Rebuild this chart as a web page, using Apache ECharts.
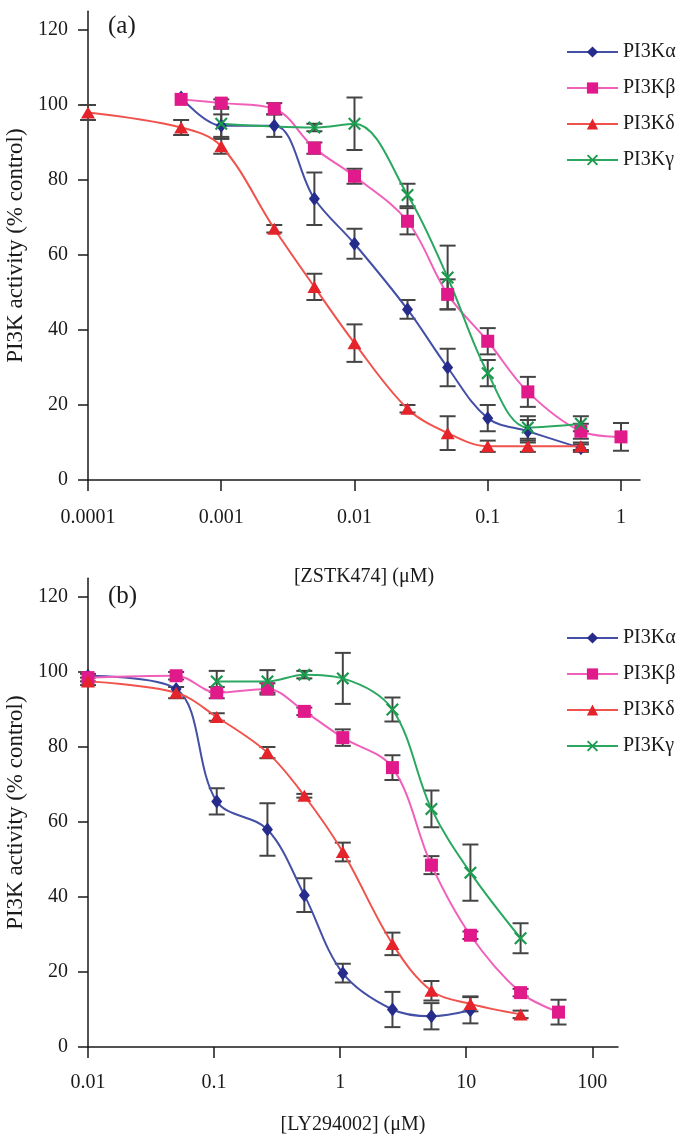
<!DOCTYPE html>
<html><head><meta charset="utf-8">
<script src="https://cdn.jsdelivr.net/npm/echarts@6/dist/echarts.min.js"></script>
<style>html,body{margin:0;padding:0;background:#fff}#c{width:679px;height:1134px}</style>
</head><body><div id="c"></div>
<script>
// ---- data ----
const seriesNames = ['PI3Kα', 'PI3Kβ', 'PI3Kδ', 'PI3Kγ'];
const xTicksA = [0.0001, 0.001, 0.01, 0.1, 1];
const xTicksB = [0.01, 0.1, 1, 10, 100];
const yTicks = [0, 20, 40, 60, 80, 100, 120];

// Panel (a): ZSTK474 concentration (μM)
const xA = [0.0001, 0.0005, 0.001, 0.0025, 0.005, 0.01, 0.025, 0.05, 0.1, 0.2, 0.5, 1];
const alphaA    = [null, 102, 94.5, 94.5, 75, 63, 45.5, 30, 16.5, 13, 8.5, null];
const alphaAErr = [null, 0, 3, 3, 7, 4, 2.5, 5, 3.5, 3, 1, null];
const betaA     = [null, 101.5, 100.5, 99, 88.5, 81, 69, 49.5, 37, 23.5, 13, 11.5];
const betaAErr  = [null, 0, 1, 1.5, 1.5, 2, 3.5, 4, 3.5, 4, 2, 3.7];
const deltaA    = [98, 94, 89, 67, 51.5, 36.5, 19, 12.5, 9, 9, 9, null];
const deltaAErr = [2, 2, 2, 1, 3.5, 5, 1, 4.5, 1.5, 1.5, 1, null];
const gammaA    = [null, null, 95, null, 94, 95, 76, 54, 28.5, 14, 15, null];
const gammaAErr = [null, null, 4, null, 1, 7, 3, 8.5, 3.5, 3, 2, null];

// Panel (b): LY294002 concentration (μM)
const xB = [0.01, 0.05, 0.105, 0.265, 0.52, 1.05, 2.6, 5.3, 10.8, 27, 54];
const alphaB    = [99, 95.5, 65.5, 58, 40.5, 19.7, 10, 8.2, 9.8, null, null];
const alphaBErr = [0, 0, 3.5, 7, 4.5, 2.5, 4.7, 3.5, 3.5, null, null];
const betaB     = [98.5, 99, 94.5, 95.5, 89.5, 82.5, 74.5, 48.5, 29.8, 14.5, 9.3];
const betaBErr  = [1, 1, 1.5, 1.5, 1, 2.2, 3.3, 2.4, 1, 1, 3.3];
const deltaB    = [97.5, 94.5, 88, 78.5, 67, 52, 27.5, 15, 11.5, 8.7, null];
const deltaBErr = [1, 1.5, 1, 1.5, 0.5, 2.5, 3, 2.6, 2, 1, null];
const gammaB    = [null, null, 97.5, 97.5, 99.3, 98.3, 90, 63.5, 46.5, 29, null];
const gammaBErr = [null, null, 2.8, 3, 1, 6.8, 3.2, 4.9, 7.5, 4, null];

// ---- styling ----
const FONT = '"Liberation Serif", "Times New Roman", serif';
const TXT = '#1a1a1a';
const AX = '#1a1a1a';
const XSYM = 'path://M0,1.2 L1.2,0 L5,3.8 L8.8,0 L10,1.2 L6.2,5 L10,8.8 L8.8,10 L5,6.2 L1.2,10 L0,8.8 L3.8,5 Z';
const styles = [
  {symbol: 'diamond', size: [11, 14], marker: '#262c8c', line: '#4450a6'},
  {symbol: 'rect', size: 13, marker: '#e01a8a', line: '#f060bb'},
  {symbol: 'triangle', size: [14, 12], marker: '#e4232a', line: '#f0524c'},
  {symbol: XSYM, size: 13, marker: '#1c9a4e', line: '#2aa860'}
];

function pairs(xs, ys) {
  const out = [];
  xs.forEach((x, i) => { if (ys[i] != null) out.push([x, ys[i]]); });
  return out;
}
function errs(xs, ys, es) {
  const out = [];
  xs.forEach((x, i) => { if (ys[i] != null && es[i]) out.push([x, ys[i] - es[i], ys[i] + es[i]]); });
  return out;
}
function renderErr(params, api) {
  const x = api.value(0);
  const p1 = api.coord([x, api.value(1)]);
  const p2 = api.coord([x, api.value(2)]);
  const w = 8;
  const style = {stroke: '#444444', lineWidth: 2};
  return {type: 'group', children: [
    {type: 'line', shape: {x1: p1[0], y1: p1[1], x2: p2[0], y2: p2[1]}, style: style},
    {type: 'line', shape: {x1: p1[0] - w, y1: p1[1], x2: p1[0] + w, y2: p1[1]}, style: style},
    {type: 'line', shape: {x1: p2[0] - w, y1: p2[1], x2: p2[0] + w, y2: p2[1]}, style: style}
  ]};
}

const panels = [
  {x: xA, ys: [alphaA, betaA, deltaA, gammaA], es: [alphaAErr, betaAErr, deltaAErr, gammaAErr]},
  {x: xB, ys: [alphaB, betaB, deltaB, gammaB], es: [alphaBErr, betaBErr, deltaBErr, gammaBErr]}
];

const series = [];
panels.forEach((p, pi) => {
  p.ys.forEach((ys, si) => {
    series.push({
      type: 'custom', name: 'err' + pi + si, xAxisIndex: pi, yAxisIndex: pi,
      renderItem: renderErr, encode: {x: 0, y: [1, 2]}, z: 1, silent: true,
      data: errs(p.x, ys, p.es[si])
    });
  });
  p.ys.forEach((ys, si) => {
    const st = styles[si];
    series.push({
      type: 'line', name: seriesNames[si], xAxisIndex: pi, yAxisIndex: pi,
      data: pairs(p.x, ys), smooth: 0.35, symbol: st.symbol, symbolSize: st.size,
      showAllSymbol: true, z: 2,
      itemStyle: {color: st.marker}, lineStyle: {color: st.line, width: 2}
    });
  });
});

function fmtLog(v) { return String(Number(Number(v).toPrecision(6))); }

function xAxis(gi, min, max, ticks, name, margin, nameGap) {
  return {
    type: 'log', logBase: 10, gridIndex: gi, min: min, max: max,
    axisLine: {lineStyle: {color: AX, width: 1.5}},
    axisTick: {show: true, length: 11, customValues: ticks, lineStyle: {color: AX, width: 1.5}},
    minorTick: {show: false}, splitLine: {show: false},
    axisLabel: {customValues: ticks, margin: margin, fontFamily: FONT, fontSize: 20, color: TXT, formatter: fmtLog},
    name: name, nameLocation: 'middle', nameGap: nameGap,
    nameTextStyle: {fontFamily: FONT, fontSize: 20, color: TXT}
  };
}
function yAxis(gi) {
  return {
    type: 'value', gridIndex: gi, min: 0, max: 125,
    axisLine: {show: true, lineStyle: {color: AX, width: 1.5}},
    axisTick: {show: true, length: 10, customValues: yTicks, lineStyle: {color: AX, width: 1.5}},
    splitLine: {show: false},
    axisLabel: {customValues: yTicks, margin: 20, fontFamily: FONT, fontSize: 20, color: TXT},
    name: 'PI3K activity (% control)', nameLocation: 'middle', nameRotate: 90, nameGap: 56,
    nameTextStyle: {fontFamily: FONT, fontSize: 23, color: TXT}
  };
}
function legend(top) {
  return {
    data: seriesNames, orient: 'vertical', left: 561, top: top,
    itemWidth: 51, itemHeight: 14, itemGap: 16, selectedMode: false,
    textStyle: {fontFamily: FONT, fontSize: 20, color: TXT, lineHeight: 20}
  };
}

const chart = echarts.init(document.getElementById('c'), null, {renderer: 'canvas'});
chart.setOption({
  backgroundColor: '#ffffff',
  animation: false,
  title: [
    {text: '(a)', left: 108, top: 14, padding: 0, textStyle: {fontFamily: FONT, fontSize: 25, fontWeight: 'normal', color: TXT}},
    {text: '(b)', left: 108, top: 584, padding: 0, textStyle: {fontFamily: FONT, fontSize: 25, fontWeight: 'normal', color: TXT}}
  ],
  legend: [legend(37), legend(623)],
  grid: [
    {left: 88, top: 11.25, width: 552, height: 468.75, outerBoundsMode: 'none'},
    {left: 88, top: 578.25, width: 530, height: 468.75, outerBoundsMode: 'none'}
  ],
  xAxis: [
    xAxis(0, 0.0001, 1.389, xTicksA, '[ZSTK474] (μM)', 28, 87),
    xAxis(1, 0.01, 160, xTicksB, '[LY294002] (μM)', 26, 68)
  ],
  yAxis: [yAxis(0), yAxis(1)],
  series: series
});
</script></body></html>
